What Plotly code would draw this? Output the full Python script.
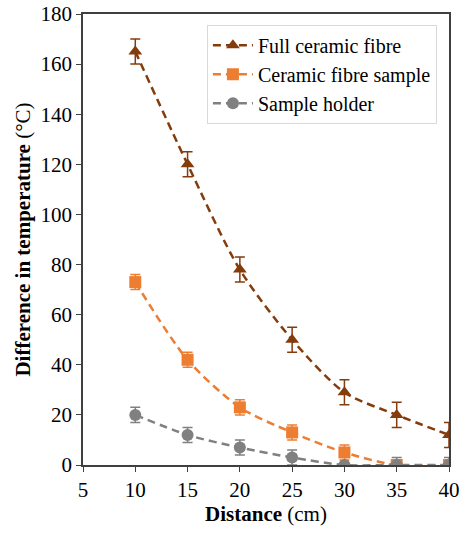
import plotly.graph_objects as go

distance = [10, 15, 20, 25, 30, 35, 40]
full_fibre = [165, 120, 78, 50, 29, 20, 12]
full_fibre_err = [5, 5, 5, 5, 5, 5, 5]
fibre_sample = [73, 42, 23, 13, 5, 0, 0]
fibre_sample_err = [3, 3, 3, 3, 3, 0, 0]
holder = [20, 12, 7, 3, 0, 0, 0]
holder_err = [3, 3, 3, 3, 0, 3, 3]

series = [
    ("Full ceramic fibre", full_fibre, full_fibre_err, "#843C0C", "triangle-up"),
    ("Ceramic fibre sample", fibre_sample, fibre_sample_err, "#ED7D31", "square"),
    ("Sample holder", holder, holder_err, "#808080", "circle"),
]

FONT = "Liberation Serif, Times New Roman, serif"

fig = go.Figure()
for name, ys, errs, color, sym in series:
    fig.add_trace(go.Scatter(
        x=distance, y=ys, name=name, mode="lines+markers",
        line=dict(color=color, width=2.5, dash="8px,5px", shape="spline", smoothing=0.8),
        marker=dict(symbol=sym, size=12, color=color),
        error_y=dict(type="data", array=errs, visible=True, color=color,
                     thickness=1.5, width=5),
    ))

fig.update_layout(
    width=461, height=533,
    margin=dict(l=83, r=12, t=14, b=68),
    paper_bgcolor="white", plot_bgcolor="white",
    font=dict(family=FONT, size=21, color="black"),
    showlegend=True,
    legend=dict(x=0.967, y=0.976, xanchor="right", yanchor="top",
                bgcolor="white", bordercolor="#D9D9D9", borderwidth=1,
                font=dict(family=FONT, size=20), tracegroupgap=0,
                itemwidth=40),
)
fig.update_xaxes(
    range=[5, 40], tickvals=[5, 10, 15, 20, 25, 30, 35, 40],
    showgrid=False, zeroline=False, automargin="bottom",
    showline=True, linecolor="#404040", linewidth=1.5, mirror=True,
    ticks="outside", ticklen=5, tickcolor="#404040",
    title=dict(text="<b>Distance</b> (cm)", font=dict(family=FONT, size=21), standoff=2),
    tickfont=dict(family=FONT, size=21),
)
fig.update_yaxes(
    range=[0, 180], tickvals=[0, 20, 40, 60, 80, 100, 120, 140, 160, 180],
    showgrid=False, zeroline=False, automargin="left",
    showline=True, linecolor="#404040", linewidth=1.5, mirror=True,
    ticks="outside", ticklen=5, tickcolor="#404040",
    title=dict(text="<b>Difference in temperature</b> (°C)", font=dict(family=FONT, size=21), standoff=4),
    tickfont=dict(family=FONT, size=21),
)

fig.write_html("out.html", config={"displayModeBar": False},
               post_script="document.body.style.margin='0';document.body.style.overflow='hidden';")
